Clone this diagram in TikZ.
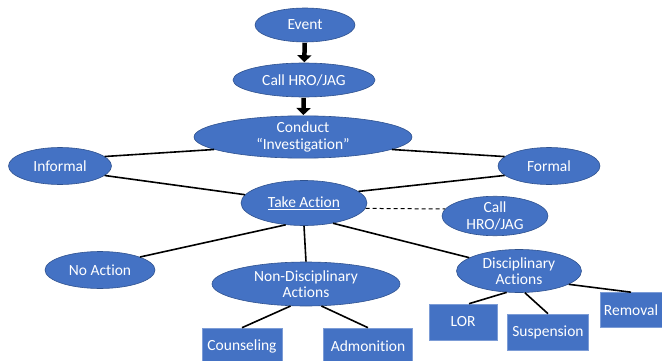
\documentclass[tikz,border=0pt]{standalone}
\usepackage{fontspec}
\setmainfont{Carlito}[Ligatures={TeX,NoCommon}]
\usetikzlibrary{shapes.geometric,arrows.meta,calc}
\definecolor{obl}{HTML}{4472C4}
\definecolor{obd}{HTML}{2F528F}
\tikzset{
  oval/.style={ellipse, fill=obl, draw=obd, line width=0.6pt, inner sep=0pt, text=white, align=center, font=\fontsize{15.5}{16.5}\selectfont},
  box/.style={rectangle, fill=obl, draw=obl!70!white, line width=0.6pt, inner sep=0pt, text=white, align=center, font=\fontsize{15.5}{16.5}\selectfont},
  link/.style={line width=1.6pt, black},
  bigarrow/.style={line width=4.5pt, black, -{Triangle[width=14pt,length=7pt]}, shorten <=0.5pt, shorten >=0.5pt}
}
\begin{document}
\begin{tikzpicture}[x=1pt,y=-1pt]
\useasboundingbox (0,0) rectangle (662,361);
\node[oval, minimum width=100pt, minimum height=34pt] (event) at (305,25) {Event};
\node[oval, minimum width=142pt, minimum height=34pt] (call) at (304,80) {Call HRO/JAG};
\node[oval, minimum width=218pt, minimum height=37pt] (conduct) at (303,137) {Conduct\\``Investigation''};
\node[oval, minimum width=103pt, minimum height=37pt] (informal) at (60,166) {Informal};
\node[oval, minimum width=102pt, minimum height=37pt] (formal) at (549,166) {Formal};
\node[oval, minimum width=126pt, minimum height=45pt] (take) at (304,203) {\underline{Take Action}};
\node[oval, minimum width=106pt, minimum height=38pt] (call2) at (495,216) {Call\\HRO/JAG};
\node[oval, minimum width=110pt, minimum height=37pt] (noact) at (100,270) {No Action};
\node[oval, minimum width=188pt, minimum height=44pt] (nondisc) at (306,284) {Non-Disciplinary\\Actions};
\node[oval, minimum width=125pt, minimum height=43pt] (disc) at (519,271) {Disciplinary\\Actions};
\node[box, minimum width=80pt, minimum height=36pt] (couns) at (242,346) {Counseling};
\node[box, minimum width=89pt, minimum height=36pt] (admon) at (368,346) {Admonition};
\node[box, minimum width=68pt, minimum height=36pt] (lor) at (463,322) {LOR};
\node[box, minimum width=81pt, minimum height=36pt] (susp) at (548,332) {Suspension};
\node[box, minimum width=62pt, minimum height=35pt] (remov) at (631,310) {Removal};
\draw[bigarrow] (event) -- (call);
\draw[bigarrow] (call) -- (conduct);
\draw[link] (conduct.188) -- (informal.12);
\draw[link] (conduct.352) -- (formal.168);
\draw[link] (informal.-12) -- (take.172);
\draw[link] (formal.-168) -- (take.12);
\draw[line width=1pt, dashed, dash pattern=on 4pt off 3pt] (take.-5) -- (call2.172);
\draw[link] (take.-130) -- (noact.18);
\draw[link] (take.south) -- (nondisc.north);
\draw[link] (take.-35) -- (disc.165);
\draw[link] (nondisc.-125) -- (couns.north);
\draw[link] (nondisc.-55) -- (admon.north);
\draw[link] (disc.-120) -- ($(lor.north)+(6,0)$);
\draw[link] (disc.-75) -- (susp.north);
\draw[link] (disc.-15) -- (remov.north);
\end{tikzpicture}
\end{document}
